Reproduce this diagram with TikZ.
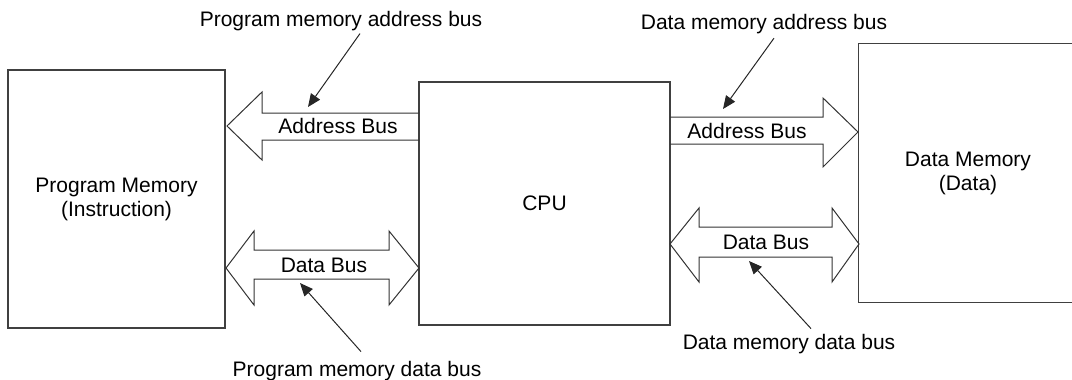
\documentclass[tikz,border=0pt]{standalone}
\usepackage{fontspec}
\setmainfont{Liberation Sans}
\usetikzlibrary{arrows.meta}
\begin{document}
\begin{tikzpicture}[x=1pt,y=-1pt,
		font=\fontsize{21}{24}\selectfont,
		memblock/.style={rectangle,draw=black!75,line width=1.3pt,inner sep=0pt,align=center},
		bus/.style={draw=black!80,line width=1pt,line join=miter},
		lbl/.style={inner sep=0pt},
		pointer/.style={draw=black!85,line width=1pt,-{Triangle[length=13pt,width=11pt]}}]
		\useasboundingbox (0,0) rectangle (1072,380);
		% memories and cpu
		\node[memblock,minimum width=217pt,minimum height=258pt](pm) at (116.5,199) {Program Memory\\(Instruction)};
		\node[memblock,minimum width=251pt,minimum height=243pt](cpu) at (544.5,203.5) {CPU};
		\node[memblock,draw=none,minimum width=218pt,minimum height=258pt](dm) at (968,173) {Data Memory\\(Data)};
		% data memory runs off the right edge
		\draw[draw=black!75,line width=1.3pt] ([xshift=30pt]dm.north east) -- (dm.north west) -- (dm.south west) -- ([xshift=30pt]dm.south east);
		% buses
		\draw[bus] (419,113) -- (262,113) -- (262,92) -- (227,126) -- (262,160) -- (262,140) -- (419,140);
		\draw[bus] (254,250) -- (389,250) -- (389,231) -- (419,268) -- (389,305) -- (389,279) -- (254,279) -- (254,305) -- (226,268) -- (254,231) -- cycle;
		\draw[bus] (670,117) -- (823,117) -- (823,98) -- (858,132) -- (823,167) -- (823,144) -- (670,144);
		\draw[bus] (699,227) -- (832,227) -- (832,208) -- (859,244) -- (832,282) -- (832,257) -- (699,257) -- (699,282) -- (670,244) -- (699,208) -- cycle;
		\node[lbl](abusl) at (338,126) {Address Bus};
		\node[lbl](dbusl) at (324,265) {Data Bus};
		\node[lbl](abusr) at (747,131) {Address Bus};
		\node[lbl](dbusr) at (766,242) {Data Bus};
		% notes
		\node[lbl,anchor=base](pmab) at (341,26) {Program memory address bus};
		\node[lbl,anchor=base](dmab) at (764,30) {Data memory address bus};
		\node[lbl,anchor=base](pmdb) at (357,376) {Program memory data bus};
		\node[lbl,anchor=base](dmdb) at (789,349) {Data memory data bus};
		\coordinate (pmabtip) at (308,107);
		\coordinate (dmabtip) at (723,109);
		\coordinate (pmdbtip) at (300,283);
		\coordinate (dmdbtip) at (749,261);
		\draw[pointer] ([xshift=19pt,yshift=-3pt]pmab.south) -- (pmabtip);
		\draw[pointer] ([xshift=10pt,yshift=-3.6pt]dmab.south) -- (dmabtip);
		\draw[pointer] ([xshift=4pt,yshift=9pt]pmdb.north) -- (pmdbtip);
		\draw[pointer] ([xshift=22pt,yshift=5pt]dmdb.north) -- (dmdbtip);
	\end{tikzpicture}
\end{document}
